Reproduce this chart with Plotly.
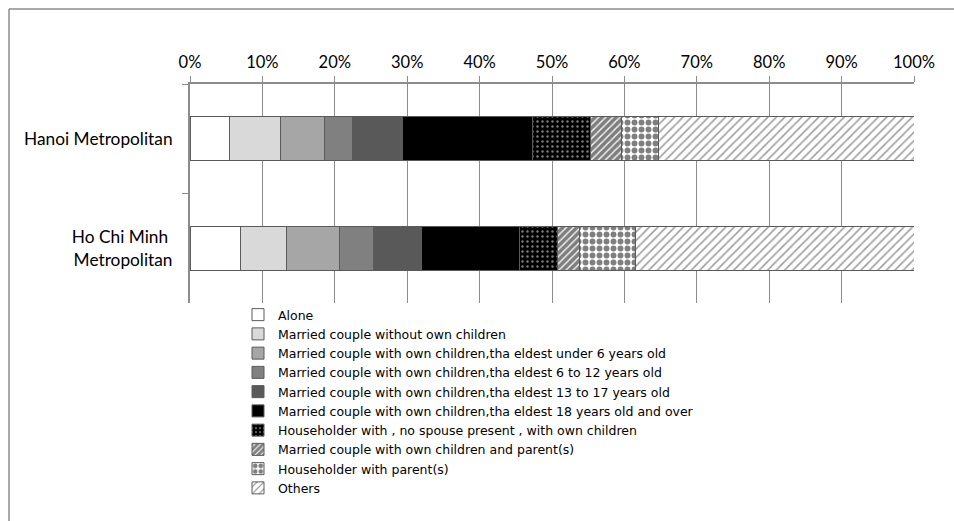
import plotly.graph_objects as go

# Household composition shares (percent) by metropolitan area
regions = ["Hanoi Metropolitan", "Ho Chi Minh <br>Metropolitan"]

household_types = [
    "Alone",
    "Married couple without own children",
    "Married couple with own children,tha eldest under 6 years old",
    "Married couple with own children,tha eldest 6 to 12 years old",
    "Married couple with own children,tha eldest 13 to 17 years old",
    "Married couple with own children,tha eldest 18 years old and over",
    "Householder with , no spouse present , with own children",
    "Married couple with own children and parent(s)",
    "Householder with parent(s)",
    "Others",
]

hanoi = [5.4, 7.1, 6.1, 3.9, 6.8, 18.0, 8.0, 4.3, 5.1, 35.3]
hcm = [7.0, 6.3, 7.4, 4.6, 6.7, 13.5, 5.3, 3.0, 7.8, 38.4]

x_ticks = [0, 10, 20, 30, 40, 50, 60, 70, 80, 90, 100]

# Fill style per household type: (fill colour, pattern settings or None)
styles = [
    ("#ffffff", None),
    ("#d9d9d9", None),
    ("#a6a6a6", None),
    ("#808080", None),
    ("#595959", None),
    ("#000000", None),
    ("#000000", dict(shape=".", fgcolor="#ffffff", bgcolor="#000000", size=5, solidity=0.18)),
    ("#ffffff", dict(shape="/", fgcolor="#000000", bgcolor="#ffffff", size=5, solidity=0.75)),
    ("#ffffff", dict(shape=".", fgcolor="#000000", bgcolor="#ffffff", size=7, solidity=0.55)),
    ("#ffffff", dict(shape="/", fgcolor="#333333", bgcolor="#ffffff", size=6, solidity=0.25)),
]

font_family = "Lato, 'Open Sans', sans-serif"
legend_family = "'DejaVu Sans', 'Open Sans', sans-serif"

fig = go.Figure()
for name, h_val, c_val, (color, pattern) in zip(household_types, hanoi, hcm, styles):
    marker = dict(color=color, line=dict(color="#5a5a5a", width=1))
    if pattern is not None:
        marker["pattern"] = pattern
    fig.add_trace(go.Bar(
        name=name,
        y=regions,
        x=[h_val / 100, c_val / 100],
        orientation="h",
        marker=marker,
    ))

fig.update_layout(
    width=954,
    height=521,
    barmode="stack",
    bargap=0.6,
    plot_bgcolor="#ffffff",
    paper_bgcolor="#ffffff",
    margin=dict(l=190, r=40, t=84, b=218, autoexpand=False),
    font=dict(family=font_family, size=14, color="#000000"),
    xaxis=dict(
        side="top",
        range=[0, 1],
        tickvals=[t / 100 for t in x_ticks],
        ticktext=[f"{t}%" for t in x_ticks],
        tickfont=dict(size=16.5),
        ticklabelstandoff=1,
        showgrid=True,
        gridcolor="#8c8c8c",
        gridwidth=1,
        showline=True,
        linecolor="#8c8c8c",
        linewidth=2,
        ticks="outside",
        ticklen=6,
        tickcolor="#8c8c8c",
        zeroline=False,
        fixedrange=True,
    ),
    yaxis=dict(
        autorange="reversed",
        tickfont=dict(size=17.3),
        ticklabelstandoff=12,
        showline=True,
        linecolor="#8c8c8c",
        linewidth=2,
        ticks="outside",
        tickson="boundaries",
        ticklen=6,
        tickcolor="#8c8c8c",
        showgrid=False,
        fixedrange=True,
    ),
    legend=dict(
        traceorder="normal",
        x=(238 - 190) / 724,
        xanchor="left",
        y=(303 - 300) / 219,
        yanchor="top",
        font=dict(family=legend_family, size=12.5),
        bgcolor="rgba(0,0,0,0)",
        borderwidth=0,
    ),
    showlegend=True,
)

# Outer chart frame (top and left edges visible)
frame = dict(color="#8c8c8c", width=1.5)
left_px, top_px = 9, 9
fx = (left_px - 190) / 724
fy = 1 + (84 - top_px) / 219
fig.add_shape(type="line", xref="paper", yref="paper", x0=fx, x1=fx, y0=-1.2, y1=fy, line=frame)
fig.add_shape(type="line", xref="paper", yref="paper", x0=fx, x1=1.2, y0=fy, y1=fy, line=frame)

fig.write_html("out.html")
